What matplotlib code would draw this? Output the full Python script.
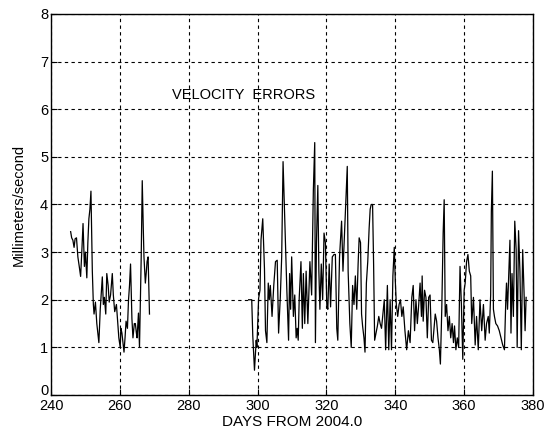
import matplotlib
matplotlib.use("Agg")
import matplotlib.pyplot as plt
import matplotlib.transforms as mtransforms

plt.rcParams["font.family"] = ["Liberation Sans", "DejaVu Sans"]

# first block of days (before the gap)
seg1_days = [245.7, 246.0, 246.35, 246.7, 247.0, 247.4, 247.8, 248.2, 248.6, 249.0,
             249.3, 249.7, 250.0, 250.4, 250.7, 251.0, 251.3, 251.6, 252.0, 252.3,
             252.5, 252.9, 253.3, 253.9, 254.3, 254.9, 255.2, 255.5, 255.9, 256.2,
             256.6, 256.9, 257.3, 257.8, 258.1, 258.5, 259.0, 259.4, 259.7, 260.1,
             260.3, 260.6, 260.9, 261.2, 261.5, 261.8, 262.2, 262.5, 262.8, 263.1,
             263.5, 263.8, 264.2, 264.5, 264.8, 265.0, 265.4, 265.7, 266.2, 266.5,
             266.8, 267.0, 267.4, 267.7, 267.9, 268.2, 268.6]
seg1_vel = [3.43, 3.3, 3.25, 3.1, 3.28, 3.3, 2.9, 2.7, 2.49, 3.1,
            3.6, 2.7, 3.0, 2.46, 3.2, 3.7, 3.9, 4.28, 2.6, 1.9,
            1.7, 1.95, 1.5, 1.1, 1.8, 2.48, 1.9, 2.05, 1.7, 2.55,
            2.3, 1.95, 2.1, 2.55, 2.1, 1.75, 1.9, 1.5, 1.2, 1.0,
            1.4, 1.3, 1.1, 0.9, 1.2, 1.55, 1.4, 1.98, 2.3, 2.75,
            1.6, 1.2, 1.5, 1.5, 1.3, 1.2, 1.72, 1.0, 2.9, 4.5,
            3.5, 2.9, 2.35, 2.6, 2.8, 2.9, 1.7]

# second block of days (after the gap)
seg2_days = [297.4, 298.3, 298.6, 299.1, 299.6, 299.8, 300.3, 300.7, 301.0, 301.5,
             302.0, 302.3, 302.7, 303.1, 303.4, 303.7, 304.2, 304.7, 305.2, 305.7,
             306.1, 306.6, 307.0, 307.4, 307.7, 308.1, 308.5, 309.0, 309.3, 309.6,
             309.9, 310.4, 310.8, 311.2, 311.5, 311.8, 312.1, 312.6, 313.0, 313.3,
             313.7, 314.1, 314.6, 315.2, 315.7, 316.2, 316.6, 316.8, 317.1, 317.5,
             317.8, 318.1, 318.5, 318.9, 319.3, 319.7, 320.1, 320.4, 320.8, 321.2,
             321.7, 322.2, 322.6, 323.0, 323.3, 323.8, 324.4, 324.8, 325.3, 325.8,
             326.05, 326.3, 326.8, 327.2, 327.6, 328.0, 328.4, 328.8, 329.2, 329.5,
             329.9, 330.2, 330.5, 330.9, 331.2, 331.6, 332.0, 332.4, 332.7, 333.0,
             333.4, 333.7, 334.0, 334.4, 334.8, 335.2, 335.6, 336.0, 336.4, 336.8,
             337.2, 337.7, 338.1, 338.5, 338.9, 339.3, 339.7, 340.0, 340.3, 340.7,
             341.1, 341.5, 341.9, 342.3, 342.8, 343.3, 343.8, 344.3, 344.8, 345.2,
             345.6, 346.0, 346.4, 346.8, 347.2, 347.6, 347.8, 348.1, 348.5, 348.9,
             349.3, 349.7, 350.1, 350.5, 350.9, 351.2, 351.6, 352.0, 352.4, 352.8,
             353.1, 353.5, 353.9, 354.2, 354.5, 354.9, 355.3, 355.7, 356.1, 356.5,
             356.9, 357.2, 357.6, 358.0, 358.4, 358.8, 359.2, 359.6, 360.0, 360.3,
             360.7, 361.1, 361.5, 361.9, 362.2, 362.7, 363.2, 363.6, 364.1, 364.6,
             365.1, 365.6, 366.1, 366.5, 367.0, 367.3, 367.7, 367.9, 368.2, 368.5,
             368.8, 369.2, 369.7, 370.2, 370.7, 371.2, 371.7, 372.1, 372.3, 372.6,
             372.9, 373.3, 373.6, 373.9, 374.3, 374.7, 375.1, 375.4, 375.8, 376.2,
             376.6, 377.0, 377.4, 377.7, 378.0]
seg2_vel = [2.0, 2.0, 1.25, 0.52, 1.15, 1.0, 2.03, 2.2, 3.26, 3.7,
            2.65, 1.35, 1.1, 2.35, 2.0, 2.3, 1.65, 2.3, 2.8, 2.83,
            1.3, 2.05, 2.9, 4.9, 4.15, 3.1, 2.2, 1.15, 2.55, 1.8,
            2.9, 1.65, 2.1, 1.2, 1.4, 1.15, 2.05, 2.8, 1.4, 2.55,
            1.5, 2.6, 1.5, 2.8, 2.1, 4.3, 5.3, 1.1, 3.2, 4.4,
            2.6, 1.8, 2.75, 2.0, 3.4, 3.2, 1.9, 1.8, 2.75, 1.85,
            2.9, 2.95, 2.95, 1.4, 1.15, 2.9, 3.65, 2.6, 3.5, 4.35,
            4.8, 2.6, 1.5, 1.0, 2.3, 1.9, 2.5, 1.8, 2.75, 3.3,
            3.2, 1.7, 1.45, 1.2, 0.9, 2.35, 2.8, 3.5, 3.9, 4.0,
            4.0, 2.75, 1.15, 1.3, 1.45, 1.65, 1.5, 1.4, 1.7, 2.0,
            0.95, 2.3, 0.95, 2.0, 0.95, 2.5, 3.1, 2.4, 1.9, 1.65,
            1.9, 2.0, 1.65, 1.85, 1.35, 0.95, 1.35, 1.1, 2.05, 2.3,
            1.35, 2.0, 1.5, 1.9, 2.35, 1.65, 2.5, 1.55, 2.2, 2.05,
            1.2, 2.05, 2.1, 1.15, 1.1, 1.35, 1.7, 1.55, 1.2, 0.95,
            0.65, 1.8, 3.4, 4.1, 1.65, 1.9, 1.35, 1.65, 1.2, 1.5,
            1.1, 1.45, 0.95, 1.2, 1.0, 2.7, 1.9, 0.75, 2.2, 2.35,
            2.8, 2.95, 2.6, 2.5, 1.5, 2.05, 1.05, 1.65, 0.95, 2.0,
            1.35, 1.9, 1.15, 1.5, 1.65, 1.3, 2.1, 3.85, 4.7, 1.8,
            1.65, 1.5, 1.45, 1.35, 1.2, 1.05, 0.95, 2.0, 2.35, 1.8,
            2.4, 3.25, 1.3, 2.55, 1.65, 3.65, 3.05, 1.0, 3.45, 2.6,
            0.95, 3.05, 2.15, 1.35, 2.05]

x_ticks = [240, 260, 280, 300, 320, 340, 360, 380]
y_ticks = [0, 1, 2, 3, 4, 5, 6, 7, 8]

fig = plt.figure(figsize=(5.45, 4.41), dpi=100)
ax = fig.add_axes([0.0936, 0.1043, 0.8844, 0.864])

ax.plot(seg1_days, seg1_vel, color="black", lw=0.9)
ax.plot(seg2_days, seg2_vel, color="black", lw=0.9)

ax.set_xlim(240, 380)
ax.set_ylim(0, 8)
ax.set_xticks(x_ticks)
ax.set_yticks(y_ticks)
ax.grid(True, color="black", linestyle=(0, (3, 3)), linewidth=0.8)
ax.tick_params(direction="in", length=4, labelsize=10.5, pad=2, colors="black")
ax.tick_params(axis="x", pad=3)
for sp in ax.spines.values():
    sp.set_linewidth(1.0)
    sp.set_color("black")

# nudge the "0" label up a little so it sits above "240" as in the original
fig.canvas.draw()
zero_lbl = ax.get_yticklabels()[0]
zero_lbl.set_transform(zero_lbl.get_transform()
                       + mtransforms.ScaledTranslation(0, 4 / 72, fig.dpi_scale_trans))

ax.set_xlabel("DAYS FROM 2004.0", fontsize=11, labelpad=1)
ax.set_ylabel("Millimeters/second", fontsize=10.5, labelpad=10)
ax.text(275.2, 6.3, "VELOCITY  ERRORS", fontsize=10.5, ha="left", va="center")

fig.savefig("out.png", dpi=100)
